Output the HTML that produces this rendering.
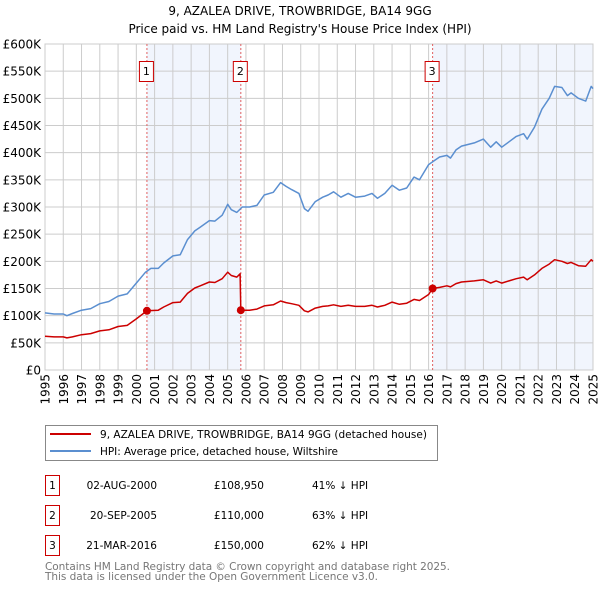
<!DOCTYPE html>
<html><head><meta charset="utf-8"><style>
body{margin:0;background:#fff;}
svg{display:block;font-family:"DejaVu Sans","Liberation Sans",sans-serif;}
</style></head><body>
<svg id="chart" width="600" height="590" viewBox="0 0 600 590" xmlns="http://www.w3.org/2000/svg">
<text x="300" y="15" text-anchor="middle" font-size="12" fill="#000">9, AZALEA DRIVE, TROWBRIDGE, BA14 9GG</text>
<text x="300" y="33" text-anchor="middle" font-size="12" fill="#000">Price paid vs. HM Land Registry's House Price Index (HPI)</text>
<g id="plot"></g>
<g>
<rect x="45.5" y="425.5" width="392" height="35" fill="#fff" stroke="#888"/>
<line x1="50" y1="434" x2="91" y2="434" stroke="#cc0000" stroke-width="2"/>
<text x="100" y="438" font-size="10.5" textLength="327" fill="#000">9, AZALEA DRIVE, TROWBRIDGE, BA14 9GG (detached house)</text>
<line x1="50" y1="451" x2="91" y2="451" stroke="#5b8fd0" stroke-width="2"/>
<text x="100" y="455" font-size="10.5" textLength="238" fill="#000">HPI: Average price, detached house, Wiltshire</text>
</g>
<g font-size="10.5" fill="#000">
<rect x="45.5" y="475.5" width="14" height="20" fill="#fff" stroke="#cc0000"/>
<text x="52.5" y="489" text-anchor="middle">1</text>
<text x="157" y="489" text-anchor="end">02-AUG-2000</text>
<text x="264" y="489" text-anchor="end">£108,950</text>
<text x="312" y="489">41% ↓ HPI</text>
<rect x="45.5" y="505.5" width="14" height="20" fill="#fff" stroke="#cc0000"/>
<text x="52.5" y="519" text-anchor="middle">2</text>
<text x="157" y="519" text-anchor="end">20-SEP-2005</text>
<text x="264" y="519" text-anchor="end">£110,000</text>
<text x="312" y="519">63% ↓ HPI</text>
<rect x="45.5" y="535.5" width="14" height="20" fill="#fff" stroke="#cc0000"/>
<text x="52.5" y="549" text-anchor="middle">3</text>
<text x="157" y="549" text-anchor="end">21-MAR-2016</text>
<text x="264" y="549" text-anchor="end">£150,000</text>
<text x="312" y="549">62% ↓ HPI</text>
</g>
<text x="45" y="570" font-size="10.5" fill="#777" textLength="405">Contains HM Land Registry data © Crown copyright and database right 2025.</text>
<text x="45" y="580" font-size="10.5" fill="#777" textLength="333">This data is licensed under the Open Government Licence v3.0.</text>
</svg>
<script>
const yTicks=[0,50,100,150,200,250,300,350,400,450,500,550,600];
const yTickLabels=["£0","£50K","£100K","£150K","£200K","£250K","£300K","£350K","£400K","£450K","£500K","£550K","£600K"];
const xYears=[1995,1996,1997,1998,1999,2000,2001,2002,2003,2004,2005,2006,2007,2008,2009,2010,2011,2012,2013,2014,2015,2016,2017,2018,2019,2020,2021,2022,2023,2024,2025];
const saleDates=[2000.58,2005.72,2016.22];
const salePrices=[108.95,110,150];
const saleLabels=["1","2","3"];
const hpiDates=[1995,1995.5,1996,1996.2,1996.5,1997,1997.5,1998,1998.5,1999,1999.5,2000,2000.5,2000.8,2001.2,2001.5,2002,2002.4,2002.8,2003.2,2003.5,2004,2004.3,2004.7,2005,2005.2,2005.5,2005.8,2006.2,2006.6,2007,2007.5,2007.9,2008.2,2008.5,2008.9,2009.2,2009.4,2009.8,2010.2,2010.5,2010.8,2011.2,2011.6,2012,2012.5,2012.9,2013.2,2013.6,2014,2014.4,2014.8,2015.2,2015.5,2016,2016.3,2016.6,2017,2017.2,2017.5,2017.8,2018.5,2019,2019.4,2019.7,2020,2020.4,2020.8,2021.2,2021.4,2021.8,2022.2,2022.6,2022.9,2023.3,2023.6,2023.8,2024.2,2024.6,2024.9,2025];
const hpiValues=[105,103,103,100,104,110,113,122,126,136,140,160,180,187,187,197,210,212,240,256,263,275,274,285,305,295,290,300,300,303,322,327,345,338,332,325,297,292,310,318,322,328,318,325,318,320,325,316,325,340,331,335,355,350,378,385,392,395,390,405,412,418,425,410,420,410,420,430,435,425,447,480,500,522,520,505,510,500,495,522,518];
const paidDates=[1995,1995.5,1996,1996.2,1996.5,1997,1997.5,1998,1998.5,1999,1999.5,2000,2000.58,2001.2,2001.5,2002,2002.4,2002.8,2003.2,2003.5,2004,2004.3,2004.7,2005,2005.2,2005.5,2005.68,2005.72,2006.2,2006.6,2007,2007.5,2007.9,2008.2,2008.5,2008.9,2009.2,2009.4,2009.8,2010.2,2010.5,2010.8,2011.2,2011.6,2012,2012.5,2012.9,2013.2,2013.6,2014,2014.4,2014.8,2015.2,2015.5,2016,2016.22,2016.6,2017,2017.2,2017.5,2017.8,2018.5,2019,2019.4,2019.7,2020,2020.4,2020.8,2021.2,2021.4,2021.8,2022.2,2022.6,2022.9,2023.3,2023.6,2023.8,2024.2,2024.6,2024.9,2025];
const paidValues=[62,61,61,59,61,65,67,72,74,80,82,94,109,110,116,124,125,141,151,155,162,161,168,180,174,171,177,110,110,112,118,120,127,124,122,119,109,107,114,117,118,120,117,119,117,117,119,116,119,125,121,123,130,128,139,150,152,155,153,159,162,164,166,160,164,160,164,168,171,166,175,187,195,203,200,196,198,192,191,203,200];

const X0=45,X1=593,Y0=370,Y1=44;
const xs=t=>X0+(t-1995)/30*(X1-X0);
const ys=v=>Y0-v/600*(Y0-Y1);
const NS="http://www.w3.org/2000/svg";
const plot=document.getElementById('plot');
function mk(tag,attrs,parent){const e=document.createElementNS(NS,tag);for(const k in attrs)e.setAttribute(k,attrs[k]);(parent||plot).appendChild(e);return e;}

// shaded regions
const shade1=mk('rect',{x:xs(saleDates[0]),y:Y1,width:xs(saleDates[1])-xs(saleDates[0]),height:Y0-Y1,fill:'#eef3fc',opacity:0.8});


const shade2=mk('rect',{x:xs(saleDates[2]),y:Y1,width:X1-xs(saleDates[2]),height:Y0-Y1,fill:'#eef3fc',opacity:0.8});



// grid
yTicks.forEach((v,i)=>{
  const g=mk('line',{x1:X0,x2:X1,y1:ys(v),y2:ys(v),stroke:'#cccccc','stroke-width':1});
  
  
  const t=mk('text',{x:41,y:ys(v)+4.5,'text-anchor':'end','font-size':12,fill:'#000'});
  
  
  t.textContent=yTickLabels[i];
});
xYears.forEach(yr=>{
  const g=mk('line',{x1:xs(yr),x2:xs(yr),y1:Y1,y2:Y0,stroke:'#cccccc','stroke-width':1});
  
  
  const x=xs(yr)+4.5,y=374;
  const t=mk('text',{x:x,y:y,'text-anchor':'end','font-size':12,fill:'#000',transform:`rotate(-90 ${x} ${y})`});
  
  
  t.textContent=String(yr);
});
const frame=mk('rect',{x:X0,y:Y1,width:X1-X0,height:Y0-Y1,fill:'none',stroke:'#cccccc'});



// sale markers lines
saleDates.forEach((d,i)=>{
  const l=mk('line',{x1:xs(d),x2:xs(d),y1:Y1,y2:Y0,stroke:'#e06060','stroke-width':1,'stroke-dasharray':'2,2'});
  
  
  const r=mk('rect',{x:xs(d)-7.5,y:61.5,width:14,height:20,fill:'#fff',stroke:'#cc0000'});
  
  
  const t=mk('text',{x:xs(d)-0.5,y:75,'text-anchor':'middle','font-size':11,fill:'#000'});
  
  
  t.textContent=saleLabels[i];
});

function path(ds,vs){return ds.map((d,i)=>(i?'L':'M')+xs(d).toFixed(1)+','+ys(vs[i]).toFixed(1)).join(' ');}
const hpi=mk('path',{d:path(hpiDates,hpiValues),fill:'none',stroke:'#5b8fd0','stroke-width':1.5,'stroke-linejoin':'round'});


const paid=mk('path',{d:path(paidDates,paidValues),fill:'none',stroke:'#cc0000','stroke-width':1.5,'stroke-linejoin':'round'});


saleDates.forEach((d,i)=>{
  const c=mk('circle',{cx:xs(d),cy:ys(salePrices[i]),r:4,fill:'#cc0000'});
  
  
});
</script>
</body></html>
